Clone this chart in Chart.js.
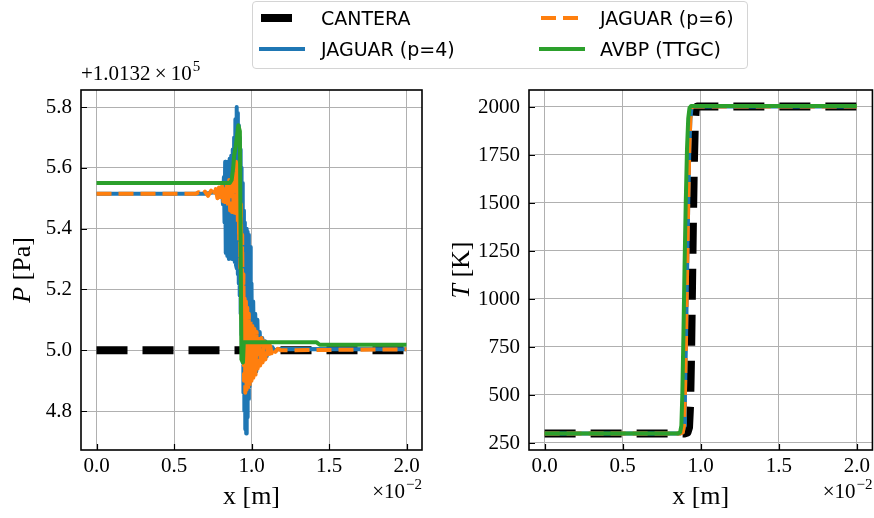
<!DOCTYPE html>
<html>
<head>
<meta charset="utf-8">
<script src="https://cdn.jsdelivr.net/npm/chart.js@4"></script>
<style>
  html, body { margin: 0; padding: 0; background: #fff; }
  #wrap { position: relative; width: 874px; height: 518px; overflow: hidden; }
  canvas { position: absolute; top: 0; }
  #pChart { left: 0; }
  #tChart { left: 437px; }
  #legend {
    position: absolute; left: 252px; top: 1px; width: 494px; height: 66px;
    border: 1px solid #d4d4d4; border-radius: 4px; background: rgba(255,255,255,0.85);
    font-family: 'DejaVu Sans', sans-serif; font-size: 19px; color: #000; z-index: 2;
  }
  .item { position: absolute; height: 22px; line-height: 22px; white-space: nowrap; }
  .item svg { position: absolute; left: 0; top: 6px; }
  .item span { position: absolute; left: 62px; top: 0; }
</style>
</head>
<body>
<div id="wrap">
  <canvas id="pChart" width="437" height="518"></canvas>
  <canvas id="tChart" width="437" height="518"></canvas>
  <div id="legend">
    <div class="item" style="left:6px; top:5px;">
      <svg width="48" height="10"><line x1="2" y1="5" x2="48" y2="5" stroke="#000" stroke-width="8" stroke-dasharray="31 15"/></svg>
      <span>CANTERA</span>
    </div>
    <div class="item" style="left:6px; top:36px;">
      <svg width="48" height="10"><line x1="0" y1="5" x2="46" y2="5" stroke="#1f77b4" stroke-width="4"/></svg>
      <span>JAGUAR (p=4)</span>
    </div>
    <div class="item" style="left:286px; top:5px;">
      <svg width="48" height="10"><line x1="2" y1="5" x2="46" y2="5" stroke="#ff7f0e" stroke-width="4" stroke-dasharray="15 7"/></svg>
      <span style="left:61px">JAGUAR (p=6)</span>
    </div>
    <div class="item" style="left:286px; top:36px;">
      <svg width="48" height="10"><line x1="0" y1="5" x2="46" y2="5" stroke="#2ca02c" stroke-width="4"/></svg>
      <span style="left:61px">AVBP (TTGC)</span>
    </div>
  </div>
</div>
<script>
// x in units of 1e-2 m, pressure shown as offset from 1.0132e5 Pa
const xTickValues = [0, 0.5, 1.0, 1.5, 2.0];
const pTickValues = [4.8, 5.0, 5.2, 5.4, 5.6, 5.8];
const tTickValues = [250, 500, 750, 1000, 1250, 1500, 1750, 2000];

const pCantera = [[0, 5.0], [2.0, 5.0]];

const pJaguar4 = [
  [0, 5.515], [0.70, 5.515], [0.76, 5.52], [0.80, 5.51], [0.81, 5.53], [0.816, 5.48],
  [0.822, 5.57], [0.826, 5.42], [0.830, 5.62], [0.834, 5.32], [0.839, 5.60], [0.844, 5.31],
  [0.849, 5.62], [0.854, 5.30], [0.859, 5.63], [0.864, 5.31], [0.869, 5.64], [0.874, 5.30],
  [0.879, 5.66], [0.884, 5.30], [0.888, 5.70], [0.892, 5.29], [0.896, 5.76], [0.900, 5.28],
  [0.903, 5.80], [0.906, 5.27], [0.909, 5.78], [0.912, 5.25], [0.915, 5.74], [0.918, 5.22],
  [0.921, 5.70], [0.924, 5.18], [0.927, 5.66], [0.930, 5.12], [0.933, 5.60], [0.936, 5.05],
  [0.939, 5.55], [0.942, 4.96], [0.945, 5.50], [0.948, 4.86], [0.951, 5.46], [0.954, 4.80],
  [0.957, 5.42], [0.960, 4.74], [0.963, 5.40], [0.966, 4.726], [0.969, 5.40], [0.972, 4.78],
  [0.975, 5.39], [0.979, 4.84], [0.983, 5.38], [0.987, 4.88], [0.991, 5.34], [0.995, 4.90],
  [1.000, 5.22], [1.005, 4.92], [1.011, 5.16], [1.017, 4.93], [1.024, 5.12], [1.031, 4.93],
  [1.038, 5.10], [1.045, 4.95], [1.053, 5.06], [1.061, 4.96], [1.070, 5.04], [1.079, 4.97],
  [1.088, 5.03], [1.098, 4.98], [1.11, 5.02], [1.12, 4.99], [1.135, 5.01], [1.15, 4.998],
  [1.17, 5.004], [2.0, 5.003]
];

const pJaguar6 = [
  [0, 5.515], [0.64, 5.515], [0.66, 5.52], [0.68, 5.51], [0.70, 5.522], [0.72, 5.508],
  [0.74, 5.525], [0.755, 5.505], [0.77, 5.53], [0.78, 5.50], [0.79, 5.535], [0.80, 5.495],
  [0.81, 5.54], [0.818, 5.49], [0.826, 5.545], [0.834, 5.48], [0.842, 5.55], [0.849, 5.47],
  [0.856, 5.56], [0.862, 5.46], [0.868, 5.565], [0.874, 5.455], [0.880, 5.575], [0.885, 5.45],
  [0.890, 5.59], [0.895, 5.44], [0.900, 5.62], [0.904, 5.44], [0.908, 5.61], [0.912, 5.42],
  [0.916, 5.58], [0.920, 5.36], [0.924, 5.54], [0.928, 5.27], [0.932, 5.48], [0.936, 5.10],
  [0.940, 5.38], [0.944, 4.98], [0.948, 5.25], [0.952, 4.90], [0.956, 5.17], [0.960, 4.86],
  [0.964, 5.16], [0.968, 4.87], [0.973, 5.14], [0.978, 4.87], [0.983, 5.12], [0.988, 4.88],
  [0.994, 5.10], [1.000, 4.90], [1.006, 5.08], [1.012, 4.91], [1.019, 5.07], [1.026, 4.92],
  [1.033, 5.06], [1.040, 4.94], [1.048, 5.05], [1.056, 4.95], [1.064, 5.04], [1.072, 4.96],
  [1.081, 5.03], [1.090, 4.97], [1.10, 5.025], [1.11, 4.98], [1.12, 5.015], [1.13, 4.99],
  [1.14, 5.01], [1.155, 4.995], [1.17, 5.005], [1.19, 5.0], [2.0, 5.003]
];

const pAvbp = [
  [0, 5.55], [0.86, 5.55], [0.872, 5.56], [0.882, 5.60], [0.888, 5.64], [0.898, 5.67],
  [0.915, 5.74], [0.925, 5.72], [0.935, 4.97], [0.945, 4.96], [0.95, 5.026],
  [1.42, 5.026], [1.44, 5.018], [2.0, 5.018]
];

const tCantera = [
  [0, 300], [0.90, 300], [0.915, 305], [0.925, 330], [0.932, 450], [0.938, 700],
  [0.944, 1050], [0.950, 1400], [0.956, 1700], [0.962, 1900], [0.968, 1985],
  [0.976, 2003], [2.0, 2003]
];
const tJaguar4 = [
  [0, 300], [0.87, 300], [0.885, 305], [0.893, 340], [0.899, 500], [0.906, 800],
  [0.913, 1150], [0.920, 1500], [0.927, 1780], [0.934, 1940], [0.941, 1995],
  [0.95, 2003], [2.0, 2003]
];
const tJaguar6 = [
  [0, 300], [0.87, 300], [0.885, 305], [0.893, 340], [0.899, 500], [0.906, 800],
  [0.913, 1150], [0.920, 1500], [0.927, 1780], [0.934, 1940], [0.941, 1995],
  [0.95, 2003], [2.0, 2003]
];
const tAvbp = [
  [0, 300], [0.855, 300], [0.868, 305], [0.876, 340], [0.882, 500], [0.889, 800],
  [0.896, 1150], [0.904, 1500], [0.912, 1780], [0.920, 1940], [0.928, 1995],
  [0.938, 2005], [2.0, 2005]
];

const SERIF = "'Liberation Serif', 'DejaVu Serif', serif";
const TICK_SIZE = 21;
const TITLE_SIZE = 26;
const toXY = arr => arr.map(([x, y]) => ({ x, y }));

// order: first series at the bottom, AVBP on top (like matplotlib plot order)
function series(cantera, jag4, jag6, avbp) {
  return [
    { label: 'CANTERA', data: toXY(cantera), borderColor: '#000', borderWidth: 8, borderDash: [31, 15], order: 4 },
    { label: 'JAGUAR (p=4)', data: toXY(jag4), borderColor: '#1f77b4', borderWidth: 4, order: 3 },
    { label: 'JAGUAR (p=6)', data: toXY(jag6), borderColor: '#ff7f0e', borderWidth: 4, borderDash: [15, 7], order: 2 },
    { label: 'AVBP (TTGC)', data: toXY(avbp), borderColor: '#2ca02c', borderWidth: 4, order: 1 }
  ].map(d => Object.assign(d, { pointRadius: 0, tension: 0, fill: false, borderJoinStyle: 'round' }));
}

// text with a raised exponent; align 'left' or 'right'
function supText(ctx, x, y, base, sup, align) {
  const big = TICK_SIZE + 'px ' + SERIF, small = '15px ' + SERIF;
  ctx.font = big;
  const wb = ctx.measureText(base).width;
  ctx.font = small;
  const ws = ctx.measureText(sup).width;
  const x0 = align === 'right' ? x - wb - ws - 1 : x;
  ctx.textAlign = 'left';
  ctx.textBaseline = 'alphabetic';
  ctx.font = big;
  ctx.fillText(base, x0, y);
  ctx.font = small;
  ctx.fillText(sup, x0 + wb + 1, y - 9);
}

const extras = {
  id: 'extras',
  afterDraw(chart, args, o) {
    const { ctx, chartArea: a, scales } = chart;
    ctx.save();
    ctx.fillStyle = '#000';
    ctx.strokeStyle = '#000';
    // inward tick marks
    ctx.lineWidth = 1.2;
    ctx.beginPath();
    scales.x.ticks.forEach(t => {
      const px = Math.round(scales.x.getPixelForValue(t.value)) + 0.5;
      ctx.moveTo(px, a.bottom); ctx.lineTo(px, a.bottom - 6);
    });
    scales.y.ticks.forEach(t => {
      const py = Math.round(scales.y.getPixelForValue(t.value)) + 0.5;
      ctx.moveTo(a.left, py); ctx.lineTo(a.left + 6, py);
    });
    ctx.stroke();
    // frame
    ctx.lineWidth = 1.6;
    ctx.strokeRect(a.left, a.top, a.right - a.left, a.bottom - a.top);

    // y title: italic symbol + unit
    ctx.save();
    ctx.translate(o.yTitleX, (a.top + a.bottom) / 2);
    ctx.rotate(-Math.PI / 2);
    ctx.textBaseline = 'middle';
    ctx.textAlign = 'left';
    ctx.font = 'italic ' + TITLE_SIZE + 'px ' + SERIF;
    const w1 = ctx.measureText(o.ySym).width;
    ctx.font = TITLE_SIZE + 'px ' + SERIF;
    const w2 = ctx.measureText(o.yUnit).width;
    const sx = -(w1 + w2) / 2;
    ctx.font = 'italic ' + TITLE_SIZE + 'px ' + SERIF;
    ctx.fillText(o.ySym, sx, 0);
    ctx.font = TITLE_SIZE + 'px ' + SERIF;
    ctx.fillText(o.yUnit, sx + w1, 0);
    ctx.restore();

    // x title
    ctx.font = TITLE_SIZE + 'px ' + SERIF;
    ctx.textAlign = 'center';
    ctx.textBaseline = 'alphabetic';
    ctx.fillText('x [m]', (a.left + a.right) / 2, 504);

    // x multiplier
    supText(ctx, a.right, 498, '\u00d710', '\u22122', 'right');
    // y offset
    if (o.offset) supText(ctx, a.left, 80, o.offset, '5', 'left');
    ctx.restore();
  }
};

function makeChart(id, datasets, yTicks, yMin, yMax, o) {
  return new Chart(document.getElementById(id), {
    type: 'line',
    data: { datasets },
    options: {
      responsive: false,
      animation: false,
      devicePixelRatio: 1,
      layout: { padding: { top: 90, right: o.padRight, bottom: 0, left: 0 } },
      plugins: { legend: { display: false }, tooltip: { enabled: false }, extras: o },
      scales: {
        x: {
          type: 'linear', min: -0.1, max: 2.1,
          afterBuildTicks: s => { s.ticks = xTickValues.map(v => ({ value: v })); },
          afterFit: s => { s.height = 68; },
          grid: { color: '#b0b0b0', lineWidth: 1, drawTicks: false },
          border: { display: false },
          ticks: { color: '#000', padding: 4, font: { family: SERIF, size: TICK_SIZE }, maxRotation: 0,
                   callback: v => v.toFixed(1) }
        },
        y: {
          type: 'linear', min: yMin, max: yMax,
          afterBuildTicks: s => { s.ticks = yTicks.map(v => ({ value: v })); },
          afterFit: s => { s.width = o.axisLeft; },
          grid: { color: '#b0b0b0', lineWidth: 1, drawTicks: false },
          border: { display: false },
          ticks: { color: '#000', padding: 9, font: { family: SERIF, size: TICK_SIZE },
                   callback: v => o.fmt(v) }
        }
      }
    },
    plugins: [extras]
  });
}

makeChart('pChart', series(pCantera, pJaguar4, pJaguar6, pAvbp), pTickValues, 4.672, 5.856, {
  padRight: 15, axisLeft: 81, yTitleX: 23, ySym: 'P', yUnit: ' [Pa]',
  offset: '+1.0132\u2009\u00d7\u200910', fmt: v => v.toFixed(1)
});
makeChart('tChart', series(tCantera, tJaguar4, tJaguar6, tAvbp), tTickValues, 213.5, 2088.5, {
  padRight: 1, axisLeft: 92, yTitleX: 25, ySym: 'T', yUnit: ' [K]',
  offset: null, fmt: v => String(v)
});
</script>
</body>
</html>
